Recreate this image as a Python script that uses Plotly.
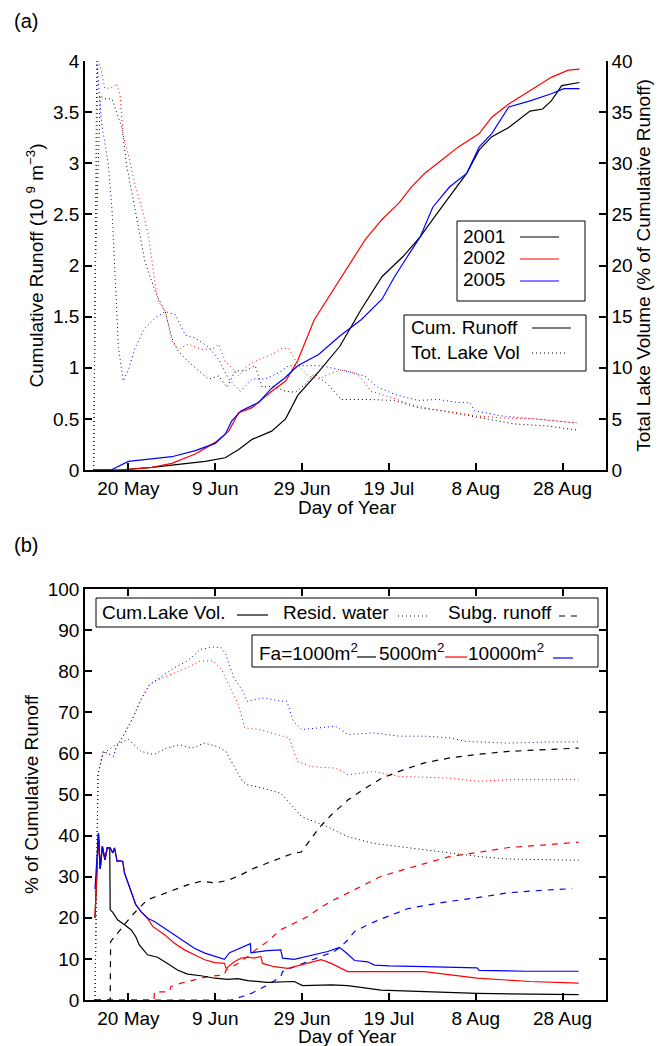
import plotly.graph_objects as go

# ---------------- panel (a): cumulative runoff (10^9 m^3) ----------------
doy_cr01 = [132, 137.7, 145.4, 153, 157.7, 162.3, 165.4, 168.5, 173, 176.2, 179, 183.8, 188.7, 193.6,
            198.4, 203.3, 207.2, 211.1, 215, 217.9, 220.8, 223.7, 227.6, 232.5, 235.4, 237.4, 239.8, 243.9]
runoff01 = [0, 0, 0.026, 0.065, 0.084, 0.12, 0.2, 0.3, 0.38, 0.5, 0.73, 0.96, 1.21, 1.57,
            1.89, 2.09, 2.28, 2.51, 2.74, 2.90, 3.13, 3.26, 3.35, 3.51, 3.53, 3.61, 3.76, 3.79]

doy_cr02 = [132, 138.5, 145.4, 150, 155.4, 160, 163.1, 165.4, 168.5, 173, 176.2, 179, 182.8, 186.7,
            190.6, 194.5, 198.4, 202.3, 205.2, 208.2, 212.1, 216, 220.8, 223.7, 227.6, 232.5, 237.4,
            241.3, 243.9]
runoff02 = [0, 0, 0.026, 0.065, 0.156, 0.27, 0.38, 0.56, 0.61, 0.77, 0.87, 1.07, 1.47, 1.73,
            1.99, 2.25, 2.45, 2.61, 2.77, 2.90, 3.03, 3.16, 3.29, 3.45, 3.58, 3.71, 3.84,
            3.91, 3.92]

doy_cr05 = [132, 136, 140, 150, 155.4, 160, 162.3, 163.8, 166, 170, 173, 176, 179, 183.8, 188.7,
            193.6, 198.4, 201.3, 204.3, 207.2, 210.1, 214, 217.9, 220.8, 223.7, 227.6, 232.5,
            237.4, 240.3, 243.9]
runoff05 = [0, 0, 0.084, 0.13, 0.19, 0.26, 0.35, 0.48, 0.58, 0.66, 0.80, 0.90, 1.02, 1.13, 1.31,
            1.47, 1.67, 1.89, 2.09, 2.28, 2.57, 2.77, 2.90, 3.16, 3.29, 3.55, 3.61,
            3.68, 3.73, 3.73]

# total lake volume (% of cumulative runoff)
doy_lv01 = [132.0, 132.4, 133.5, 134.6, 136.2, 137.3, 138.5, 139.6, 140.8, 142.3, 143.8, 145.4, 146.5,
            148.5, 150, 151.5, 153.8, 156.2, 158.5, 160.8, 162.7, 164.6, 166.9, 169.2, 170.8, 173.1,
            176.2, 178.5, 180.8, 182.8, 185.9, 189, 195.1, 201.3, 206.7, 212, 218.2, 222.8, 229,
            236.6, 243.4]
lakevol01 = [0, 20, 36.6, 36.3, 36.3, 35, 33.5, 29.8, 27.2, 23.6, 20.4, 18.4, 17.1,
             15.5, 12.9, 11.6, 10.6, 9.7, 8.9, 9.2, 8.1, 9.7, 9.7, 10.2, 8.1, 8.2,
             7.7, 7.6, 8.4, 9.4, 8.4, 6.9, 6.9, 6.8, 6.1, 5.8, 5.3, 5.0, 4.5,
             4.3, 3.9]

doy_lv02 = [132.0, 132.4, 133.0, 133.5, 134.6, 136.2, 137.3, 138.1, 138.8, 140, 141.5, 143.1, 144.6,
            145.4, 146.2, 146.9, 148.5, 150, 151.5, 153.8, 156.9, 159.2, 160.8, 162.3, 163.8, 165.4,
            167.7, 170, 173.1, 175.4, 176.9, 179.2, 181.5, 183.8, 186.9, 189, 192.8, 195.9, 200.5,
            205.1, 210.5, 215.9, 219.7, 225.8, 233.5, 243.4]
lakevol02 = [0, 20, 40, 39.5, 37.3, 37.4, 37.8, 36.6, 32.7, 30.8, 27.9, 25.6, 23,
             20.4, 18.1, 16.5, 15.5, 12.6, 11.8, 12.3, 11.8, 11.8, 12.3, 10.6, 10, 9.2,
             10.3, 10.8, 11.3, 11.9, 11.9, 10.2, 9.2, 8.9, 9.5, 9.8, 9.4, 7.7, 7.1,
             6.4, 5.9, 5.6, 5.3, 5.1, 5.0, 4.6]

doy_lv05 = [132.0, 132.3, 132.7, 133.8, 135.4, 136.2, 136.9, 137.7, 138.8, 140, 141.5, 143.8, 146.2,
            148.5, 150.8, 153.1, 155.4, 158.5, 160.8, 163.1, 165.8, 168.5, 171.5, 174.6, 176.9,
            179.2, 184.4, 189.8, 194.4, 197.4, 201.3, 206.7, 211.3, 215.9, 218.6, 219.7, 225.8,
            233.5, 243.4]
lakevol05 = [0, 20, 40, 34, 29.8, 25.6, 19.4, 12, 8.7, 9.8, 11.9, 13.9, 14.9,
             15.5, 15.2, 13.2, 12.9, 12, 10.8, 8.9, 7.7, 8.9, 8.9, 9.5, 10.2,
             10.2, 10.2, 9.7, 9.2, 8.1, 7.4, 6.8, 6.9, 6.6, 6.6, 5.8, 5.3,
             5.0, 4.6]

# ---------------- panel (b): % of cumulative runoff ----------------
# cumulative lake volume (solid)
doy_cl1 = [132.3, 133.1, 133.5, 134.0, 134.6, 135.1, 135.7, 135.8, 136.4, 137.5, 139.1, 140.6, 141.7,
           142.5, 144.4, 146.7, 149.0, 151.3, 153.6, 156.7, 159.9, 162.9, 165.2, 167.5, 172.0, 178.2,
           180.1, 186.7, 190.5, 195.1, 198.2, 220.3, 243.7]
cumlake1 = [20, 40.6, 31.9, 37.4, 34.1, 37.0, 37.0, 22.0, 21.3, 19.5, 18.3, 17.1, 15.4,
            13.4, 11.0, 10.4, 8.9, 7.3, 6.3, 5.9, 5.3, 5.0, 5.2, 4.7, 4.3, 4.5,
            3.5, 3.7, 3.5, 2.8, 2.4, 1.6, 1.3]

doy_cl5 = [132.3, 133.1, 133.5, 134.0, 134.6, 135.1, 135.8, 136.4, 136.8, 137.4, 137.9, 138.7, 139.1,
           139.8, 140.9, 141.7, 142.9, 144.4, 145.6, 148.3, 150.6, 152.9, 155.2, 157.6, 159.9, 162.1,
           162.5, 164.4, 166.0, 167.5, 169.0, 170.5, 170.9, 173.6, 176.7, 179.8, 182.8, 184.4, 186.7,
           189.0, 190.5, 194.4, 198.2, 208.2, 220.3, 232.5, 243.7]
cumlake5 = [20, 40.6, 31.9, 37.4, 34.1, 37.0, 37.0, 35.8, 37.0, 33.7, 33.9, 33.7, 30.9,
            28.9, 25.6, 23.2, 21.5, 19.9, 17.9, 15.9, 13.8, 12.2, 11.0, 9.8, 9.1, 8.9,
            7.7, 9.3, 10.2, 10.4, 10.2, 10.6, 8.9, 8.1, 7.7, 8.5, 9.3, 9.8, 8.9,
            7.7, 6.9, 6.9, 6.9, 6.9, 5.3, 4.5, 4.1]

doy_cl10 = [132.3, 133.1, 133.5, 134.0, 134.6, 135.1, 135.8, 136.4, 136.8, 137.4, 137.9, 138.7, 139.1,
            139.8, 140.9, 141.7, 142.9, 144.4, 146.0, 148.3, 150.6, 152.9, 155.2, 157.6, 159.9, 162.1,
            163.3, 164.8, 166.7, 168.1, 168.2, 172.0, 175.1, 175.5, 178.2, 180.1, 182.8, 185.9, 188.6,
            189.8, 192.1, 195.1, 196.7, 198.2, 200.2, 208.2, 220.3, 220.8, 231.5, 243.7]
cumlake10 = [27, 40.6, 31.9, 37.4, 34.1, 37.0, 37.0, 35.8, 37.0, 33.7, 33.9, 33.7, 30.9,
             28.9, 25.6, 23.2, 21.5, 19.9, 19.1, 17.5, 15.9, 14.2, 12.6, 11.4, 10.6, 9.9,
             11.5, 12.2, 13.0, 13.7, 11.5, 12.0, 12.2, 10.2, 9.9, 10.4, 11.1, 11.8, 12.8,
             11.8, 9.6, 9.3, 8.5, 8.4, 8.3, 8.1, 7.8, 7.2, 7.0, 7.0]

# residual water (dotted)
doy_rw1 = [132.3, 132.6, 133.0, 134.2, 137.1, 140.0, 142.9, 145.8, 148.8, 151.7, 154.6, 157.5, 160.4,
           162.4, 164.3, 166.3, 167.3, 171.2, 175.1, 178.0, 179.9, 184.8, 190.6, 196.5, 202.3, 208.2,
           214.0, 220.8, 227.6, 243.7]
resid1 = [0, 30, 55, 60.0, 62.1, 63.4, 60.5, 59.7, 61.3, 62.1, 61.3, 62.5, 61.7,
          60.5, 56.8, 53.2, 52.4, 51.5, 50.3, 46.7, 44.6, 42.6, 39.7, 38.1, 37.3, 36.5,
          35.7, 34.9, 34.3, 34.0]

doy_rw5 = [132.3, 132.6, 133.0, 134.2, 136.6, 137.1, 139.0, 141.0, 142.9, 144.9, 147.8, 150.7, 153.6,
           156.6, 159.5, 161.4, 163.4, 165.3, 166.8, 170.2, 174.1, 177.0, 178.9, 181.9, 187.7, 190.6,
           196.5, 202.3, 208.2, 214.0, 220.8, 227.6, 243.7]
resid5 = [0, 30, 55, 60.5, 59.3, 61.3, 64.6, 68.6, 73.1, 76.8, 78.4, 79.6, 80.9,
          82.5, 82.5, 80.5, 76.0, 71.9, 66.2, 65.8, 64.6, 63.8, 58.1, 56.8, 56.4, 54.8,
          55.6, 54.4, 54.2, 54.0, 53.2, 53.6, 53.7]

doy_rw10 = [132.3, 132.6, 133.0, 134.2, 136.6, 137.1, 139.0, 141.0, 142.9, 144.9, 147.8, 150.7, 153.6,
            156.6, 159.5, 161.4, 162.4, 164.3, 166.3, 167.3, 171.2, 175.1, 176.5, 178.0, 179.9, 184.8,
            187.7, 190.6, 196.5, 202.3, 208.2, 214.0, 217.9, 227.6, 237.4, 243.7]
resid10 = [0, 30, 55, 60.5, 59.3, 61.3, 64.6, 68.6, 73.1, 76.8, 78.8, 80.9, 82.5,
           85.3, 85.9, 85.7, 84.1, 78.4, 75.2, 72.7, 73.5, 72.7, 72.7, 67.8, 65.8, 66.2,
           66.6, 64.6, 65.0, 64.2, 64.2, 63.8, 62.9, 62.5, 62.8, 62.8]

# subglacial runoff (dashed)
doy_sg1 = [132.3, 135.8, 135.9, 137.5, 139.1, 140.6, 142.2, 144.4, 147.5, 150.6, 153.6, 156.7, 159.9,
           162.9, 166.0, 169.0, 172.0, 175.1, 178.2, 179.8, 182.1, 184.0, 186.7, 190.6, 194.5, 198.4,
           203.3, 208.2, 214.0, 219.8, 227.6, 235.4, 243.7]
subg1 = [0, 0, 14.2, 16.3, 18.3, 20.3, 22.1, 24.4, 25.6, 26.8, 28.0, 28.9, 28.5,
         29.1, 30.5, 32.1, 33.3, 34.6, 35.8, 36.0, 39.4, 42.0, 45.0, 48.7, 51.5, 54.0,
         56.0, 57.7, 58.9, 59.7, 60.5, 60.9, 61.3]

doy_sg5 = [132.3, 145.9, 146.0, 149.4, 149.8, 152.1, 155.2, 158.2, 162.1, 162.5, 165.2, 167.5, 169.8,
           172.0, 175.1, 178.2, 181.3, 184.4, 187.4, 190.5, 193.6, 198.2, 208.2, 214.0, 219.8, 227.6,
           235.4, 243.7]
subg5 = [0, 0, 2.0, 2.0, 3.3, 4.1, 4.9, 5.7, 6.1, 7.3, 8.9, 10.6, 12.6,
         14.2, 17.1, 18.7, 20.3, 22.6, 24.4, 26.0, 27.6, 30.1, 33.2, 34.9, 35.8, 37.1,
         37.7, 38.4]

doy_sg10 = [132.3, 163.6, 166.0, 168.3, 170.5, 172.8, 175.1, 175.5, 178.2, 181.3, 184.4, 187.4, 189.0,
            190.5, 192.1, 195.1, 198.2, 204.3, 208.2, 214.0, 219.8, 227.6, 235.4, 242.2]
subg10 = [0, 0, 0.8, 1.6, 2.8, 4.1, 5.7, 6.9, 8.1, 9.3, 10.6, 11.8, 13.0,
          14.6, 16.7, 18.3, 19.7, 22.2, 23.0, 24.0, 24.8, 26.1, 26.7, 27.1]

tick_days = [140, 160, 180, 200, 220, 240]
tick_text = ['20 May', '9 Jun', '29 Jun', '19 Jul', '8 Aug', '28 Aug']

# the page body has an 8px margin, so the figure is drawn 8px smaller and
# every position below is given in window pixels, shifted by that offset
OFF = 8
W, H = 665 - OFF, 1046 - OFF
FONT = 'Liberation Sans, Arial, Helvetica, sans-serif'
DOT = '1px,3px'
DASH = '6px,6px'


def px(x):
    return (x - OFF) / W


def py(y):
    return 1 - (y - OFF) / H


fig = go.Figure()

# panel (a)
for d, v, c in [(doy_lv01, lakevol01, 'black'), (doy_lv02, lakevol02, 'red'), (doy_lv05, lakevol05, 'blue')]:
    fig.add_trace(go.Scatter(x=d, y=v, mode='lines', xaxis='x', yaxis='y2',
                             line=dict(color=c, width=1, dash=DOT), showlegend=False))
for d, v, c in [(doy_cr01, runoff01, 'black'), (doy_cr02, runoff02, 'red'), (doy_cr05, runoff05, 'blue')]:
    fig.add_trace(go.Scatter(x=d, y=v, mode='lines', xaxis='x', yaxis='y',
                             line=dict(color=c, width=1.2), showlegend=False))

# panel (b)
for d, v, c in [(doy_rw1, resid1, 'black'), (doy_rw5, resid5, 'red'), (doy_rw10, resid10, 'blue')]:
    fig.add_trace(go.Scatter(x=d, y=v, mode='lines', xaxis='x2', yaxis='y3',
                             line=dict(color=c, width=1, dash=DOT), showlegend=False))
for d, v, c in [(doy_sg1, subg1, 'black'), (doy_sg5, subg5, 'red'), (doy_sg10, subg10, 'blue')]:
    fig.add_trace(go.Scatter(x=d, y=v, mode='lines', xaxis='x2', yaxis='y3',
                             line=dict(color=c, width=1.2, dash=DASH), showlegend=False))
for d, v, c in [(doy_cl1, cumlake1, 'black'), (doy_cl5, cumlake5, 'red'), (doy_cl10, cumlake10, 'blue')]:
    fig.add_trace(go.Scatter(x=d, y=v, mode='lines', xaxis='x2', yaxis='y3',
                             line=dict(color=c, width=1.2), showlegend=False))

ax = dict(showline=True, linecolor='black', linewidth=1.5, ticks='inside', ticklen=7,
          tickcolor='black', tickwidth=1.5, showgrid=False, zeroline=False, automargin=False,
          tickfont=dict(size=19, color='black'))
tfont = dict(size=19, color='black')
xdom = [px(85), px(606)]

fig.update_layout(
    width=W, height=H, margin=dict(l=0, r=0, t=0, b=0),
    paper_bgcolor='white', plot_bgcolor='white',
    font=dict(family=FONT, size=19, color='black'),
    xaxis=dict(ax, domain=xdom, anchor='y', range=[130, 250], tickvals=tick_days, ticktext=tick_text),
    yaxis=dict(ax, domain=[py(470), py(61)], anchor='x', range=[0, 4], dtick=0.5,
               title=dict(text='Cumulative Runoff (10 <sup>9</sup> m<sup>\u22123</sup>)', standoff=4,
                          font=tfont)),
    yaxis2=dict(ax, overlaying='y', side='right', anchor='x', range=[0, 40], dtick=5,
                title=dict(text='Total Lake Volume (% of Cumulative Runoff)', standoff=4, font=tfont)),
    xaxis2=dict(ax, domain=xdom, anchor='y3', range=[130, 250], tickvals=tick_days, ticktext=tick_text,
                mirror='ticks'),
    yaxis3=dict(ax, domain=[py(1000), py(589)], anchor='x2', range=[0, 100], dtick=10, mirror='ticks',
                title=dict(text='% of Cumulative Runoff', standoff=4, font=tfont)),
)

shapes = []
ann = []


def box(x0, y0, x1, y1):
    shapes.append(dict(type='rect', xref='paper', yref='paper', x0=px(x0), x1=px(x1), y0=py(y1), y1=py(y0),
                       line=dict(color='black', width=1), fillcolor='white', layer='above'))


def sample(x0, x1, y, color, dash='solid'):
    shapes.append(dict(type='line', xref='paper', yref='paper', x0=px(x0), x1=px(x1), y0=py(y), y1=py(y),
                       line=dict(color=color, width=1.2, dash=dash), layer='above'))


def label(x, y, text, size=19, anchor='left'):
    ann.append(dict(xref='paper', yref='paper', x=px(x), y=py(y), text=text, showarrow=False,
                    xanchor=anchor, yanchor='middle', font=dict(size=size, color='black')))


# panel labels
label(12, 21, '(a)', 20)
label(12, 545, '(b)', 20)

# x axis titles
label(347, 508, 'Day of Year', 19, 'center')
label(347, 1036, 'Day of Year', 19, 'center')

# legends panel (a)
box(457, 221, 585, 301)
for t, yy, c in [('2001', 236, 'black'), ('2002', 258, 'red'), ('2005', 280, 'blue')]:
    label(461, yy, t)
    sample(520, 559, yy + 1, c)
box(404, 315, 586, 371)
label(409, 328, 'Cum. Runoff')
sample(532, 571, 328, 'black')
label(409, 352, 'Tot. Lake Vol')
sample(532, 566, 353, 'black', DOT)

# legends panel (b)
box(96, 598, 598, 627)
label(100, 612, 'Cum.Lake Vol.')
sample(237, 268, 615, 'black')
label(281, 612, 'Resid. water')
sample(398, 428, 616, 'black', DOT)
label(446, 612, 'Subg. runoff')
sample(559, 581, 616, 'black', DASH)

box(252, 635, 598, 667)
label(257, 652, 'Fa=1000m<sup>2</sup>')
sample(357, 376, 657, 'black')
label(377, 652, '5000m<sup>2</sup>')
sample(445, 467, 657, 'red')
label(466, 652, '10000m<sup>2</sup>')
sample(553, 573, 658, 'blue')

fig.update_layout(shapes=shapes, annotations=ann)

fig.write_html("out.html")
